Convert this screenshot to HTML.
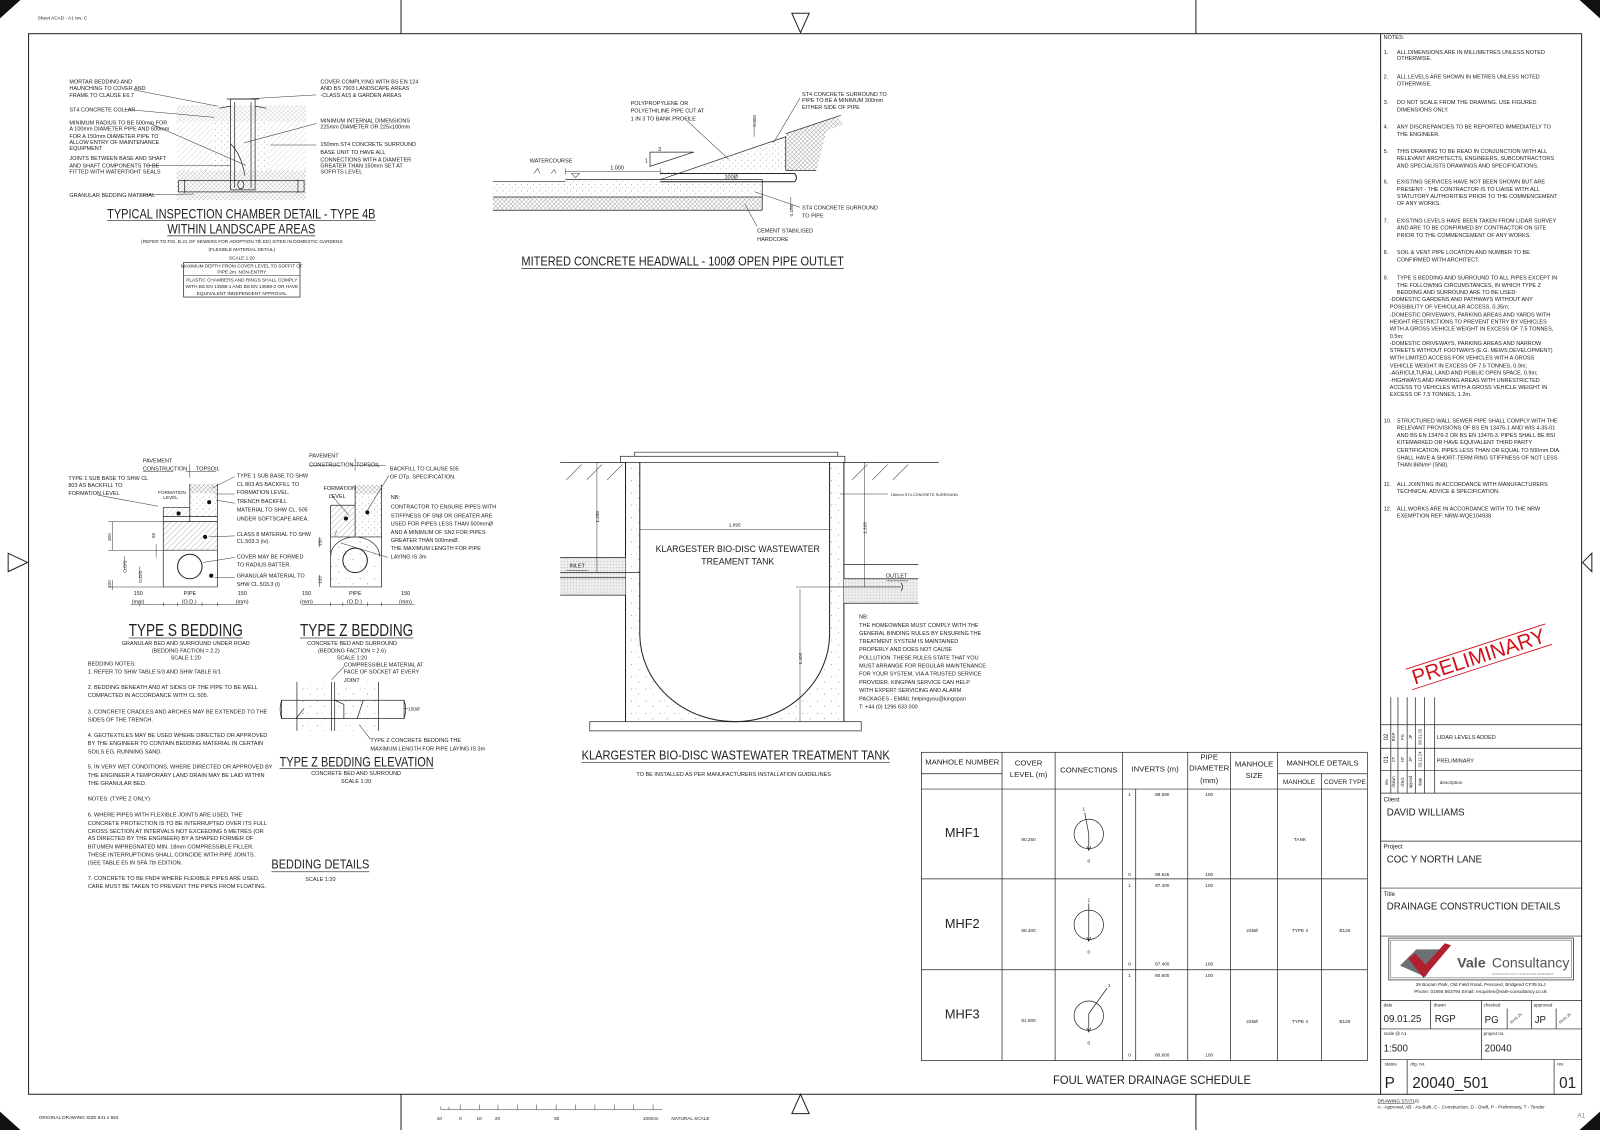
<!DOCTYPE html>
<html><head><meta charset="utf-8"><style>
html,body{margin:0;padding:0;background:#fff}
svg{display:block}
text{font-family:"Liberation Sans",sans-serif;fill:#222}
.s{font-size:5.4px}
.t{font-size:4.6px}
.n{font-size:5.5px}
.m{font-size:7px}
.l{stroke:#222;stroke-width:.7;fill:none}
.k{stroke:#222;stroke-width:1;fill:none}
.h{stroke:#333;stroke-width:.5;fill:none}
</style></head><body>
<svg width="1600" height="1130" viewBox="0 0 1568 1107" preserveAspectRatio="none" xmlns="http://www.w3.org/2000/svg">
<defs>
<pattern id="dg" width="4" height="4" patternUnits="userSpaceOnUse" patternTransform="rotate(45)"><line x1="0" y1="0" x2="0" y2="4" stroke="#666" stroke-width=".5"/></pattern>
<pattern id="xh" width="3" height="3" patternUnits="userSpaceOnUse" patternTransform="rotate(45)"><path d="M0 0V3M0 0H3" stroke="#555" stroke-width=".5"/></pattern>
<pattern id="dt" width="6" height="6" patternUnits="userSpaceOnUse"><circle cx="1" cy="1" r=".45" fill="#777"/><circle cx="4" cy="3.5" r=".4" fill="#888"/><circle cx="2" cy="5" r=".3" fill="#999"/></pattern>
<pattern id="st" width="14" height="12" patternUnits="userSpaceOnUse"><circle cx="3" cy="3" r=".5" fill="#777"/><circle cx="10" cy="8" r=".5" fill="#888"/><path d="M7 2l1 1" stroke="#888" stroke-width=".4"/></pattern>
<pattern id="gd" width="3" height="3" patternUnits="userSpaceOnUse"><rect width="3" height="3" fill="#eee"/><circle cx="1" cy="1" r=".5" fill="#aaa"/></pattern>
</defs>
<rect width="1568" height="1107" fill="#fff"/>
<!-- border -->
<path d="M0 0H20L0 18Z M1568 0H1548L1568 18Z M0 1107H20L0 1089Z M1568 1107H1548L1568 1089Z" fill="#111"/>
<rect x="28" y="33" width="1522" height="1039" class="k"/>
<path d="M393 0V33M1172 0V33M393 1072V1107M1172 1072V1107" class="k"/>
<path d="M776 13H793L784.5 32Z M776 1091H793L784.5 1072Z M8 542V560L27 551Z M1560 542V560L1551 551Z" class="k"/>
<text x="37" y="19" class="t">Sheet ACAD - A1 rev. C</text>
<text x="38" y="1096" class="t">ORIGINAL DRAWING SIZE 841 x 594</text>
<path d="M432 1087H649M432 1084V1087M440 1084V1087M451 1082V1087M470 1082V1087M488 1082V1087M507 1082V1087M526 1082V1087M545 1082V1087M564 1082V1087M583 1082V1087M602 1082V1087M621 1082V1087M640 1082V1087" class="h"/>
<text x="428" y="1097" class="t">10</text><text x="450" y="1097" class="t">0</text><text x="467" y="1097" class="t">10</text><text x="485" y="1097" class="t">20</text><text x="543" y="1097" class="t">50</text><text x="630" y="1097" class="t">100mm</text><text x="658" y="1097" class="t">NATURAL SCALE</text>

<!-- INSPECTION CHAMBER -->
<rect x="173" y="103" width="127" height="16" fill="url(#xh)" opacity=".5"/>
<rect x="173" y="119" width="127" height="48" fill="url(#dg)" opacity=".5"/>
<rect x="173" y="167" width="127" height="29" fill="url(#xh)" opacity=".7"/>
<rect x="209" y="119" width="17" height="48" fill="#fff"/><rect x="209" y="119" width="17" height="48" fill="url(#dt)"/>
<rect x="250" y="119" width="13" height="48" fill="#fff"/><rect x="250" y="119" width="13" height="48" fill="url(#dt)"/>
<rect x="226" y="97" width="24" height="89" fill="#fff" class="l"/>
<path d="M230 100V184M246 100V184M222 97H254M215 106L226 104M261 106L250 104" class="l"/>
<rect x="175" y="177" width="123" height="11" fill="#fff" class="l"/>
<path d="M181 176V189M292 176V189" class="l"/>
<ellipse cx="236" cy="181" rx="3" ry="4" class="l"/>
<path d="M240 172Q236 150 226 141" class="l"/>
<g class="h"><path d="M131 88L213 104M122 107L210 115M147 121L241 162M143 162L226 162M137 191L190 190M310 93L240 97M310 121L239 140M310 142L265 142"/></g>
<g class="s">
<text x="68" y="82">MORTAR BEDDING AND</text><text x="68" y="88">HAUNCHING TO COVER AND</text><text x="68" y="95">FRAME TO CLAUSE E6.7</text>
<text x="68" y="109">ST4 CONCRETE COLLAR</text>
<text x="68" y="122">MINIMUM RADIUS TO BE 500mm FOR</text><text x="68" y="128">A 100mm DIAMETER PIPE AND 600mm</text><text x="68" y="135">FOR A 150mm DIAMETER PIPE TO</text><text x="68" y="141">ALLOW ENTRY OF MAINTENANCE</text><text x="68" y="147">EQUIPMENT</text>
<text x="68" y="157">JOINTS BETWEEN BASE AND SHAFT</text><text x="68" y="164">AND SHAFT COMPONENTS TO BE</text><text x="68" y="170">FITTED WITH WATERTIGHT SEALS</text>
<text x="68" y="193">GRANULAR BEDDING MATERIAL</text>
<text x="314" y="82">COVER COMPLYING WITH BS EN 124</text><text x="314" y="88">AND BS 7903 LANDSCAPE AREAS</text><text x="314" y="95">-CLASS A15 &amp; GARDEN AREAS</text>
<text x="314" y="120">MINIMUM INTERNAL DIMENSIONS</text><text x="314" y="126">225mm DIAMETER OR 225x100mm</text>
<text x="314" y="143">150mm ST4 CONCRETE SURROUND</text>
<text x="314" y="151">BASE UNIT TO HAVE ALL</text><text x="314" y="158">CONNECTIONS WITH A DIAMETER</text><text x="314" y="164">GREATER THAN 150mm SET AT</text><text x="314" y="170">SOFFITS LEVEL</text>
</g>
<text x="105" y="214" font-size="14" textLength="263" lengthAdjust="spacingAndGlyphs">TYPICAL INSPECTION CHAMBER DETAIL - TYPE 4B</text>
<text x="164" y="229" font-size="14" textLength="145" lengthAdjust="spacingAndGlyphs">WITHIN LANDSCAPE AREAS</text>
<path d="M105 216H368M164 231H309" stroke="#444" stroke-width=".8"/>
<g class="t" text-anchor="middle"><text x="237" y="238">(REFER TO FIG. B.21 OF SEWERS FOR ADOPTION 7th ED) SITED IN DOMESTIC GARDENS</text><text x="237" y="246">(FLEXIBLE MATERIAL DETAIL)</text><text x="237" y="254">SCALE 1:20</text>
<text x="237" y="262">MAXIMUM DEPTH FROM COVER LEVEL TO SOFFIT OF</text><text x="237" y="268">PIPE 2m, NON-ENTRY</text><text x="237" y="276">PLASTIC CHAMBERS AND RINGS SHALL COMPLY</text><text x="237" y="282">WITH BS EN 13598-1 AND BS EN 13598-2 OR HAVE</text><text x="237" y="289">EQUIVALENT INDEPENDENT APPROVAL</text></g>
<rect x="180" y="257" width="114" height="34" class="l"/><path d="M180 270H294" class="h"/>

<!-- HEADWALL -->
<rect x="483" y="178" width="71" height="15" fill="url(#dt)"/>
<rect x="554" y="176" width="193" height="17" fill="url(#dt)"/>
<rect x="483" y="193" width="264" height="13" fill="url(#xh)"/>
<path d="M483 178H554M554 176H747V206M483 193H747M483 206H747" class="l"/>
<path d="M647 176L770 134V167H647Z" fill="url(#dt)"/>
<path d="M647 176L770 134V167" class="l"/>
<path d="M647 170H779M647 178H779M779 170Q782 174 779 178" class="k"/>
<path d="M770 131L820 114L826 122L810 128L800 167H770Z" fill="url(#xh)"/>
<path d="M770 131L824 113M770 167H800" class="l"/>
<path d="M637 149V163L680 149Z" class="l"/>
<text x="645" y="148" class="s">3</text><text x="632" y="159" class="s">1</text>
<path d="M554 168H647M554 165V171M647 165V171M739 128V134M775 193V206M739 118V133" class="h"/>
<path d="M523 170l4-5 2 5M540 170l3-4 2 4M560 170h8l-4 4z" class="h"/>
<text x="598" y="166" class="s">1.000</text>
<text x="519" y="159" class="s">WATERCOURSE</text>
<text x="710" y="175" class="s">100Ø</text>
<text transform="translate(741,124) rotate(-90)" class="t">0.350</text>
<text transform="translate(777,212) rotate(-90)" class="t">0.150</text>
<g class="h"><path d="M672 117L714 156M784 96L758 140M784 203L740 188M742 222L730 200"/></g>
<g class="s">
<text x="618" y="103">POLYPROPYLENE OR</text><text x="618" y="110">POLYETHILINE PIPE CUT AT</text><text x="618" y="118">1 IN 3 TO BANK PROFILE</text>
<text x="786" y="94">ST4 CONCRETE SURROUND TO</text><text x="786" y="100">PIPE TO BE A MINIMUM 300mm</text><text x="786" y="107">EITHER SIDE OF PIPE</text>
<text x="786" y="205">ST4 CONCRETE SURROUND</text><text x="786" y="213">TO PIPE</text>
<text x="742" y="228">CEMENT STABILISED</text><text x="742" y="236">HARDCORE</text>
</g>
<text x="511" y="260" font-size="13" textLength="316" lengthAdjust="spacingAndGlyphs">MITERED CONCRETE HEADWALL  - 100Ø OPEN PIPE OUTLET</text>
<path d="M511 263H827" stroke="#444" stroke-width=".8"/>

<!-- TYPE S BEDDING -->
<rect x="186" y="474" width="27" height="9" fill="url(#xh)"/>
<rect x="186" y="483" width="27" height="23" fill="url(#dt)"/>
<rect x="160" y="497" width="26" height="9" fill="url(#dg)" opacity=".6"/>
<rect x="160" y="511" width="53" height="28" fill="url(#dg)"/>
<path d="M186 474V511M213 474V575M160 497V575H213M160 497H186M160 506H213M160 511H213M160 539H213" class="l"/>
<circle cx="186" cy="555" r="12" fill="#fff" class="k"/>
<circle cx="175" cy="503" r="2" fill="#111"/><circle cx="205" cy="492" r="2" fill="#111"/><circle cx="201" cy="526" r="2" fill="#111"/><circle cx="207" cy="564" r="2" fill="#111"/>
<path d="M140 462H170M186 455V468M182 462H212M110 511V539M106 511H160M106 539H160M153 533V546M122 545V558M137 555V567M110 568V578M106 575H160M128 592H238M137 590V594M160 590V594M174 590V594M198 590V594M213 590V594" class="h"/>
<path d="M96 485L155 496M230 467L208 478M230 484L211 484M230 493L212 490M230 525L205 526M230 546L199 551M230 566L210 566" class="h"/>
<g class="s">
<text x="140" y="453">PAVEMENT</text><text x="140" y="461">CONSTRUCTION</text><text x="192" y="461">TOPSOIL</text>
<text x="67" y="470">TYPE 1 SUB BASE TO SHW CL</text><text x="67" y="477">803  AS BACKFILL TO</text><text x="67" y="485">FORMATION LEVEL</text>
<text x="232" y="468">TYPE 1 SUB BASE TO SHW</text><text x="232" y="476">CL 803  AS BACKFILL TO</text><text x="232" y="484">FORMATION LEVEL.</text>
<text x="232" y="493">TRENCH BACKFILL</text><text x="232" y="501">MATERIAL TO SHW CL. 505</text><text x="232" y="510">UNDER SOFTSCAPE AREA.</text>
<text x="232" y="525">CLASS 8 MATERIAL TO SHW</text><text x="232" y="532">CL.503.3 (iv).</text>
<text x="232" y="547">COVER MAY BE FORMED</text><text x="232" y="555">TO RADIUS BATTER.</text>
<text x="232" y="566">GRANULAR MATERIAL TO</text><text x="232" y="574">SHW CL.503.3 (i)</text>
<text x="131" y="583">150</text><text x="129" y="591">(mm)</text><text x="180" y="583">PIPE</text><text x="178" y="591">(O.D.)</text><text x="233" y="583">150</text><text x="231" y="591">(mm)</text>
</g>
<g class="t"><text x="155" y="484">FORMATION</text><text x="160" y="489">LEVEL</text>
<text transform="translate(109,530) rotate(-90)">300</text><text transform="translate(152,527) rotate(-90)">50</text><text transform="translate(124,561) rotate(-90)">O.D/2</text><text transform="translate(139,571) rotate(-90)">O.D/2</text><text transform="translate(109,576) rotate(-90)">100</text></g>
<text x="126" y="623" font-size="17" textLength="112" lengthAdjust="spacingAndGlyphs">TYPE S BEDDING</text>
<path d="M126 625H238" stroke="#444" stroke-width=".8"/>
<g class="s" text-anchor="middle"><text x="182" y="632">GRANULAR BED AND SURROUND UNDER ROAD</text><text x="182" y="639">(BEDDING FACTION = 2.2)</text><text x="182" y="646">SCALE 1:20</text></g>

<!-- TYPE Z BEDDING -->
<rect x="348" y="475" width="26" height="9" fill="url(#xh)"/>
<rect x="348" y="484" width="26" height="42" fill="url(#dt)"/>
<rect x="324" y="495" width="24" height="31" fill="url(#dg)"/>
<path d="M324 575V545A24 19 0 0 1 372 545V575Z" fill="url(#st)"/>
<path d="M324 526H374M324 495V575H374V475M348 475V526M324 495H348M324 545A24 19 0 0 1 372 545" class="l"/>
<circle cx="348" cy="549" r="12" fill="#fff" class="k"/>
<circle cx="339" cy="508" r="2" fill="#111"/><circle cx="360" cy="502" r="2" fill="#111"/>
<path d="M303 456H334M348 449V461M344 456H378M313 526V536M313 563V575M296 592H406M324 590V594M336 590V594M360 590V594M374 590V594" class="h"/>
<path d="M381 466L360 500M324 484L342 505M328 525L330 520M380 546L334 532" class="h"/>
<g class="s">
<text x="303" y="448">PAVEMENT</text><text x="303" y="457">CONSTRUCTION</text><text x="349" y="457">TOPSOIL</text>
<text x="382" y="461">BACKFILL TO CLAUSE 505</text><text x="382" y="469">OF DTp. SPECIFICATION.</text>
<text x="317" y="480">FORMATION</text><text x="322" y="488">LEVEL</text>
<text x="383" y="489">NB:</text><text x="383" y="498">CONTRACTOR TO ENSURE PIPES WITH</text><text x="383" y="507">STIFFNESS OF SN8 OR GREATER ARE</text><text x="383" y="515">USED FOR PIPES LESS THAN 500mmØ</text><text x="383" y="523">AND A MINIMUM OF SN2 FOR PIPES</text><text x="383" y="531">GREATER THAN 500mmØ.</text><text x="383" y="539">THE MAXIMUM LENGTH FOR PIPE</text><text x="383" y="547">LAYING IS 3m</text>
<text x="296" y="583">150</text><text x="294" y="591">(mm)</text><text x="342" y="583">PIPE</text><text x="340" y="591">(O.D.)</text><text x="393" y="583">150</text><text x="391" y="591">(mm)</text>
</g>
<g class="t"><text transform="translate(315,535) rotate(-90)">150</text><text transform="translate(315,572) rotate(-90)">100</text></g>
<text x="294" y="623" font-size="17" textLength="111" lengthAdjust="spacingAndGlyphs">TYPE Z BEDDING</text>
<path d="M294 625H405" stroke="#444" stroke-width=".8"/>
<g class="s" text-anchor="middle"><text x="345" y="632">CONCRETE BED AND SURROUND</text><text x="345" y="639">(BEDDING FACTION = 2.6)</text><text x="345" y="646">SCALE 1:20</text></g>

<!-- TYPE Z ELEVATION -->
<rect x="291" y="668" width="80" height="48" fill="url(#st)"/>
<path d="M291 668V716M371 668V716" class="l"/>
<rect x="276" y="686" width="120" height="18" fill="#fff" class="l"/>
<path d="M325 668V716M328 668V716M276 686Q273 695 276 704M396 686Q399 695 396 704M290 704L298 694M356 686L350 704M328 686L337 690V704" class="l"/>
<path d="M325 666L337 653M400 694H396M363 724L352 710" class="h"/>
<g class="s"><text x="337" y="653">COMPRESSIBLE MATERIAL AT</text><text x="337" y="660">FACE OF SOCKET AT EVERY</text><text x="337" y="668">JOINT</text>
<text x="363" y="727">TYPE Z CONCRETE BEDDING THE</text><text x="363" y="735">MAXIMUM LENGTH FOR PIPE LAYING IS 3m</text></g>
<text x="400" y="696" class="t">150Ø</text>
<text x="274" y="751" font-size="13.5" textLength="151" lengthAdjust="spacingAndGlyphs">TYPE Z BEDDING ELEVATION</text>
<path d="M274 753H425" stroke="#444" stroke-width=".8"/>
<g class="s" text-anchor="middle"><text x="349" y="759">CONCRETE BED AND SURROUND</text><text x="349" y="767">SCALE 1:20</text></g>
<text x="266" y="851" font-size="13" textLength="96" lengthAdjust="spacingAndGlyphs">BEDDING DETAILS</text>
<path d="M266 854H362" stroke="#444" stroke-width=".8"/>
<text x="314" y="863" class="s" text-anchor="middle">SCALE 1:20</text>

<!-- BEDDING NOTES -->
<g class="n">
<text x="86" y="652">BEDDING NOTES:</text>
<text x="86" y="660">1. REFER TO SHW TABLE 5/3 AND SHW TABLE 6/1</text>
<text x="86" y="675">2. BEDDING BENEATH AND AT SIDES OF THE PIPE TO BE WELL</text><text x="86" y="683">COMPACTED IN ACCORDANCE WITH CL 505.</text>
<text x="86" y="699">3. CONCRETE CRADLES AND ARCHES MAY BE EXTENDED TO THE</text><text x="86" y="707">SIDES OF THE TRENCH.</text>
<text x="86" y="722">4. GEOTEXTILES MAY BE USED WHERE DIRECTED OR APPROVED</text><text x="86" y="730">BY THE ENGINEER TO CONTAIN BEDDING MATERIAL IN CERTAIN</text><text x="86" y="738">SOILS EG. RUNNING SAND.</text>
<text x="86" y="753">5. IN VERY WET CONDITIONS, WHERE DIRECTED OR APPROVED BY</text><text x="86" y="761">THE ENGINEER A TEMPORARY LAND DRAIN MAY BE LAID WITHIN</text><text x="86" y="769">THE GRANULAR BED.</text>
<text x="86" y="784">NOTES: (TYPE Z ONLY)</text>
<text x="86" y="800">6. WHERE PIPES WITH FLEXIBLE JOINTS ARE USED, THE</text><text x="86" y="808">CONCRETE   PROTECTION IS TO BE INTERRUPTED OVER ITS FULL</text><text x="86" y="816">CROSS SECTION AT INTERVALS NOT EXCEEDING 5 METRES (OR</text><text x="86" y="823">AS DIRECTED BY THE ENGINEER) BY A SHAPED FORMER OF</text><text x="86" y="831">BITUMEN IMPREGNATED MIN. 18mm COMPRESSIBLE FILLER.</text><text x="86" y="839">THESE INTERRUPTIONS SHALL COINCIDE WITH PIPE JOINTS.</text><text x="86" y="847">(SEE TABLE E5 IN SFA 7th EDITION.</text>
<text x="86" y="862">7. CONCRETE TO BE FND4 WHERE FLEXIBLE PIPES ARE USED.</text><text x="86" y="870">CARE MUST BE TAKEN TO PREVENT THE PIPES FROM FLOATING.</text>
</g>

<!-- TANK -->
<path d="M549 453H614M827 453H920" class="l"/>
<path d="M555 470l15-15M575 470l15-15M595 470l15-15M835 470l15-15M855 470l15-15M875 470l15-15" class="h"/>
<rect x="608" y="447" width="220" height="6" fill="#fff" class="l"/>
<path d="M622 447V443H821V447" class="l"/>
<rect x="613" y="453" width="14" height="254" fill="url(#st)"/>
<rect x="813" y="453" width="14" height="254" fill="url(#st)"/>
<path d="M627 621A93 86 0 0 0 813 621V707H627Z" fill="url(#st)"/>
<path d="M613 453V707M827 453V707M627 453V621A93 86 0 0 0 813 621V453" class="k"/>
<rect x="578" y="707" width="266" height="9" fill="url(#st)" class="l"/>
<rect x="549" y="546" width="64" height="37" fill="url(#gd)"/>
<path d="M549 546H613M549 583H613M549 561H627M549 566H613" class="l"/>
<rect x="827" y="567" width="73" height="24" fill="url(#gd)"/>
<path d="M827 553H900M827 567H900M813 575H883M827 591H900M883 571Q886 575 883 579" class="l"/>
<path d="M555 559H576M869 569H890" class="h"/>
<path d="M627 519H813M585 453V561M581 453H589M847 453V575M843 453H851M784 577V707M780 575H813" class="h"/>
<path d="M870 484H823" class="h"/>
<text x="720" y="516" class="t" text-anchor="middle">1.995</text>
<text transform="translate(587,512) rotate(-90)" class="t">1.250</text>
<text transform="translate(849,523) rotate(-90)" class="t">1.315</text>
<text transform="translate(786,651) rotate(-90)" class="t">1.400</text>
<text x="873" y="486" font-size="3.8">150mm ST4 CONCRETE SURROUND</text>
<text x="558" y="556" class="s">INLET</text><text x="868" y="566" class="s">OUTLET</text>
<g font-size="8.6" text-anchor="middle"><text x="723" y="541">KLARGESTER BIO-DISC WASTEWATER</text><text x="723" y="553">TREAMENT TANK</text></g>
<g class="s"><text x="842" y="606">NB:</text><text x="842" y="614">THE HOMEOWNER MUST COMPLY WITH THE</text><text x="842" y="622">GENERAL BINDING RULES BY ENSURING THE</text><text x="842" y="630">TREATMENT SYSTEM IS MAINTAINED</text><text x="842" y="638">PROPERLY AND DOES NOT CAUSE</text><text x="842" y="646">POLLUTION. THESE RULES STATE THAT YOU</text><text x="842" y="654">MUST ARRANGE FOR REGULAR MAINTENANCE</text><text x="842" y="662">FOR YOUR SYSTEM, VIA A TRUSTED SERVICE</text><text x="842" y="670">PROVIDER. KINGPAN SERVICE CAN HELP</text><text x="842" y="678">WITH EXPERT SERVICING AND ALARM</text><text x="842" y="686">PACKAGES - EMAIL helpingyou@kingspan</text><text x="842" y="694">T: +44 (0) 1296 633 000</text></g>
<text x="570" y="744" font-size="13" textLength="302" lengthAdjust="spacingAndGlyphs">KLARGESTER BIO-DISC WASTEWATER TREATMENT TANK</text>
<path d="M570 747H872" stroke="#444" stroke-width=".8"/>
<text x="719" y="760" class="s" text-anchor="middle">TO BE INSTALLED AS PER MANUFACTURERS INSTALLATION GUIDELINES</text>

<!-- SCHEDULE -->
<g class="l">
<rect x="903" y="737" width="437" height="302"/>
<path d="M903 773H1340M903 861H1340M903 950H1340M903 758H982M1252 758H1340M982 737V1039M1034 737V1039M1100 737V1039M1113 773V1039M1164 737V1039M1206 737V1039M1252 737V1039M1295 758V1039"/>
</g>
<g font-size="7.6" text-anchor="middle">
<text x="943" y="749">MANHOLE NUMBER</text><text x="1008" y="750">COVER</text><text x="1008" y="761">LEVEL (m)</text><text x="1067" y="757">CONNECTIONS</text><text x="1132" y="756">INVERTS (m)</text><text x="1185" y="744">PIPE</text><text x="1185" y="755">DIAMETER</text><text x="1185" y="767">(mm)</text><text x="1229" y="751">MANHOLE</text><text x="1229" y="762">SIZE</text><text x="1296" y="750">MANHOLE DETAILS</text></g>
<g font-size="6.4" text-anchor="middle"><text x="1273" y="768">MANHOLE</text><text x="1318" y="768">COVER TYPE</text></g>
<g font-size="12.5" text-anchor="middle"><text x="943" y="820">MHF1</text><text x="943" y="909">MHF2</text><text x="943" y="998">MHF3</text></g>
<g class="t" text-anchor="middle">
<text x="1008" y="824">90.250</text><text x="1008" y="913">88.400</text><text x="1008" y="1001">81.600</text>
<text x="1107" y="780">1</text><text x="1139" y="780">88.590</text><text x="1185" y="780">100</text><text x="1107" y="858">0</text><text x="1139" y="858">88.525</text><text x="1185" y="858">100</text>
<text x="1107" y="869">1</text><text x="1139" y="869">87.400</text><text x="1185" y="869">100</text><text x="1107" y="946">0</text><text x="1139" y="946">87.400</text><text x="1185" y="946">100</text>
<text x="1107" y="957">1</text><text x="1139" y="957">80.600</text><text x="1185" y="957">100</text><text x="1107" y="1035">0</text><text x="1139" y="1035">80.600</text><text x="1185" y="1035">100</text>
<text x="1274" y="824">TANK</text>
<text x="1227" y="913">225Ø</text><text x="1274" y="913">TYPE 4</text><text x="1318" y="913">B125</text>
<text x="1227" y="1002">225Ø</text><text x="1274" y="1002">TYPE 4</text><text x="1318" y="1002">B125</text>
<text x="1062" y="794">1</text><text x="1067" y="845">0</text><text x="1067" y="883">1</text><text x="1067" y="934">0</text><text x="1087" y="967">1</text><text x="1067" y="1023">0</text>
</g>
<g class="l">
<circle cx="1067" cy="817" r="14.4"/><path d="M1063 796L1067 817V832M1065 829L1067 833L1069 829"/>
<circle cx="1067" cy="906" r="14.4"/><path d="M1067 885V921M1065 918L1067 922L1069 918"/>
<circle cx="1067" cy="995" r="14.4"/><path d="M1085 968L1067 993V1010M1065 1007L1067 1011L1069 1007"/>
</g>
<text x="1032" y="1062" font-size="12" textLength="194" lengthAdjust="spacingAndGlyphs">FOUL WATER DRAINAGE SCHEDULE</text>

<!-- NOTES COLUMN -->
<path d="M1353 33V1072" class="k"/>
<g class="s">
<text x="1356" y="38">NOTES:</text>
<text x="1356" y="53">1.</text><text x="1369" y="53">ALL DIMENSIONS ARE IN MILLIMETRES UNLESS NOTED</text><text x="1369" y="59">OTHERWISE.</text>
<text x="1356" y="77">2.</text><text x="1369" y="77">ALL LEVELS ARE SHOWN IN METRES UNLESS NOTED</text><text x="1369" y="84">OTHERWISE.</text>
<text x="1356" y="102">3.</text><text x="1369" y="102">DO NOT SCALE FROM THE DRAWING.  USE FIGURED</text><text x="1369" y="109">DIMENSIONS ONLY.</text>
<text x="1356" y="126">4.</text><text x="1369" y="126">ANY DISCREPANCIES TO BE REPORTED IMMEDIATELY TO</text><text x="1369" y="133">THE ENGINEER.</text>
<text x="1356" y="150">5.</text><text x="1369" y="150">THIS DRAWING TO BE READ IN CONJUNCTION WITH ALL</text><text x="1369" y="157">RELEVANT ARCHITECTS, ENGINEERS, SUBCONTRACTORS</text><text x="1369" y="164">AND SPECIALISTS DRAWINGS AND SPECIFICATIONS.</text>
<text x="1356" y="180">6.</text><text x="1369" y="180">EXISTING SERVICES HAVE NOT BEEN SHOWN BUT ARE</text><text x="1369" y="187">PRESENT - THE CONTRACTOR IS TO LIAISE WITH ALL</text><text x="1369" y="194">STATUTORY AUTHORITIES PRIOR TO THE COMMENCEMENT</text><text x="1369" y="201">OF ANY WORKS.</text>
<text x="1356" y="218">7.</text><text x="1369" y="218">EXISTING LEVELS HAVE BEEN TAKEN FROM LIDAR SURVEY</text><text x="1369" y="225">AND ARE TO BE CONFIRMED BY CONTRACTOR ON SITE</text><text x="1369" y="232">PRIOR TO THE COMMENCEMENT OF ANY WORKS.</text>
<text x="1356" y="249">8.</text><text x="1369" y="249">SOIL &amp; VENT PIPE LOCATION AND NUMBER TO BE</text><text x="1369" y="256">CONFIRMED WITH ARCHITECT.</text>
<text x="1356" y="274">9.</text><text x="1369" y="274">TYPE S BEDDING AND SURROUND TO ALL PIPES EXCEPT IN</text><text x="1369" y="281">THE FOLLOWING CIRCUMSTANCES, IN WHICH TYPE Z</text><text x="1369" y="288">BEDDING AND SURROUND ARE TO BE USED:</text>
<text x="1362" y="295">-DOMESTIC GARDENS AND PATHWAYS WITHOUT ANY</text><text x="1362" y="302">POSSIBILITY OF VEHICULAR ACCESS, 0.35m;</text><text x="1362" y="310">-DOMESTIC DRIVEWAYS, PARKING AREAS AND YARDS WITH</text><text x="1362" y="317">HEIGHT RESTRICTIONS TO PREVENT ENTRY BY VEHICLES</text><text x="1362" y="324">WITH A GROSS VEHICLE WEIGHT IN EXCESS OF 7.5 TONNES,</text><text x="1362" y="331">0.5m;</text><text x="1362" y="338">-DOMESTIC DRIVEWAYS, PARKING AREAS AND NARROW</text><text x="1362" y="345">STREETS WITHOUT FOOTWAYS (E.G. MEWS DEVELOPMENT)</text><text x="1362" y="352">WITH LIMITED ACCESS FOR VEHICLES WITH A GROSS</text><text x="1362" y="360">VEHICLE WEIGHT IN EXCESS OF 7.5 TONNES, 0.9m;</text><text x="1362" y="367">-AGRICULTURAL LAND AND PUBLIC OPEN SPACE, 0.9m;</text><text x="1362" y="374">-HIGHWAYS AND PARKING AREAS WITH UNRESTRICTED</text><text x="1362" y="381">ACCESS TO VEHICLES WITH A GROSS VEHICLE WEIGHT IN</text><text x="1362" y="388">EXCESS OF 7.5 TONNES, 1.2m.</text>
<text x="1356" y="414">10.</text><text x="1369" y="414">STRUCTURED WALL SEWER PIPE SHALL COMPLY WITH THE</text><text x="1369" y="421">RELEVANT PROVISIONS OF BS EN 13476-1 AND WIS 4-35-01</text><text x="1369" y="428">AND BS EN 13476-2 OR BS EN 13476-3. PIPES SHALL BE BSI</text><text x="1369" y="435">KITEMARKED OR HAVE EQUIVALENT THIRD PARTY</text><text x="1369" y="443">CERTIFICATION. PIPES LESS THAN OR EQUAL TO 500mm DIA.</text><text x="1369" y="450">SHALL HAVE A SHORT-TERM RING STIFFNESS OF NOT LESS</text><text x="1369" y="457">THAN 8kN/m² (SN8).</text>
<text x="1356" y="476">11.</text><text x="1369" y="476">ALL JOINTING IN ACCORDANCE WITH MANUFACTURERS</text><text x="1369" y="483">TECHNICAL ADVICE &amp; SPECIFICATION.</text>
<text x="1356" y="500">12.</text><text x="1369" y="500">ALL WORKS ARE IN ACCORDANCE WITH TO THE NRW</text><text x="1369" y="507">EXEMPTION REF: NRW-WQE104938</text>
</g>
<g transform="translate(1449,643) rotate(-18)">
<text x="0" y="7" font-size="20.5" text-anchor="middle" fill="#d0101a" style="fill:#d0101a" textLength="136" lengthAdjust="spacingAndGlyphs">PRELIMINARY</text>
<path d="M-72 -10H72M-72 11H72" stroke="#d0101a" stroke-width=".9"/>
</g>

<!-- TITLE BLOCK -->
<g class="l">
<path d="M1353 710H1550M1353 733H1550M1353 755H1550M1353 777H1550M1353 824H1550M1353 870H1550M1353 917H1550M1353 980H1550M1353 1008H1550M1353 1038H1550"/>
<path d="M1363 683V777M1370 683V777M1379 683V777M1387 683V777M1396 683V777M1406 683V777"/>
<path d="M1402 980V1008M1452 980V1038M1477 988V1008M1501 980V1008M1525 988V1008M1379 1038V1072M1523 1038V1072"/>
<rect x="1361" y="919" width="181" height="41"/><rect x="1363" y="921" width="177" height="37" stroke-width=".4"/>
</g>
<g font-size="4" text-anchor="middle">
<text transform="translate(1360,722) rotate(-90)" font-size="6">02</text><text transform="translate(1367,722) rotate(-90)">RGP</text><text transform="translate(1376,722) rotate(-90)">PG</text><text transform="translate(1384,722) rotate(-90)">JP</text><text transform="translate(1393,722) rotate(-90)">09.01.25</text>
<text transform="translate(1360,744) rotate(-90)" font-size="6">01</text><text transform="translate(1367,744) rotate(-90)">CT</text><text transform="translate(1376,744) rotate(-90)">HT</text><text transform="translate(1384,744) rotate(-90)">JP</text><text transform="translate(1393,744) rotate(-90)">03.12.24</text>
<text transform="translate(1360,766) rotate(-90)">rev.</text><text transform="translate(1367,766) rotate(-90)">drawn</text><text transform="translate(1376,766) rotate(-90)">chkd.</text><text transform="translate(1384,766) rotate(-90)">apprvd</text><text transform="translate(1393,766) rotate(-90)">date</text>
</g>
<text x="1408" y="724" class="s">LIDAR LEVELS ADDED</text>
<text x="1408" y="747" class="s">PRELIMINARY</text>
<text x="1411" y="768" class="t">description</text>
<g font-size="6"><text x="1356" y="785">Client</text><text x="1356" y="831">Project</text><text x="1356" y="878">Title</text></g>
<g font-size="9.5"><text x="1359" y="799">DAVID WILLIAMS</text><text x="1359" y="845">COC Y NORTH LANE</text><text x="1359" y="891">DRAINAGE CONSTRUCTION DETAILS</text></g>
<path d="M1372 946L1388 930H1414L1397 957Z" fill="#6b7075"/>
<path d="M1380 939L1395 958L1422 926L1416 924L1397 945L1387 934Z" fill="#b0202e"/>
<text x="1428" y="948" font-size="14" font-weight="bold" fill="#555" style="fill:#555">Vale</text>
<text x="1462" y="948" font-size="14" fill="#555" style="fill:#555" textLength="76" lengthAdjust="spacingAndGlyphs">Consultancy</text>
<text x="1462" y="955" font-size="2.6" fill="#888" style="fill:#888">CONSULTING CIVIL &amp; STRUCTURAL ENGINEERS</text>
<g class="t" text-anchor="middle"><text x="1451" y="966">29 Bocam Park, Old Field Road, Pencoed, Bridgend  CF35 5LJ</text><text x="1451" y="973">Phone:  01656 863794  Email: enquiries@vale-consultancy.co.uk</text></g>
<g font-size="4.4"><text x="1356" y="986">date</text><text x="1405" y="986">drawn</text><text x="1454" y="986">checked</text><text x="1503" y="986">approved</text><text x="1356" y="1014">scale @ A1</text><text x="1454" y="1014">project no.</text><text x="1357" y="1044">status</text><text x="1382" y="1044">drg. no.</text><text x="1526" y="1044">rev.</text></g>
<g font-size="9.5"><text x="1356" y="1001">09.01.25</text><text x="1406" y="1001">RGP</text><text x="1455" y="1002">PG</text><text x="1504" y="1002">JP</text><text x="1356" y="1030">1:500</text><text x="1455" y="1030">20040</text></g>
<g font-size="3.6"><text transform="translate(1481,1003) rotate(-40)">09.01.25</text><text transform="translate(1529,1003) rotate(-40)">09.01.25</text></g>
<g font-size="15"><text x="1357" y="1066">P</text><text x="1384" y="1066">20040_501</text><text x="1528" y="1066">01</text></g>
<text x="1350" y="1080" font-size="4.6">DRAWING STATUS</text><path d="M1350 1081H1386" class="h"/>
<text x="1350" y="1086" font-size="4.6">A - Approval, AB - As-Built, C - Construction, D - Draft, P - Preliminary, T - Tender</text>
<text x="1546" y="1095" font-size="6" fill="#777" style="fill:#777">A1</text>
</svg>
</body></html>
